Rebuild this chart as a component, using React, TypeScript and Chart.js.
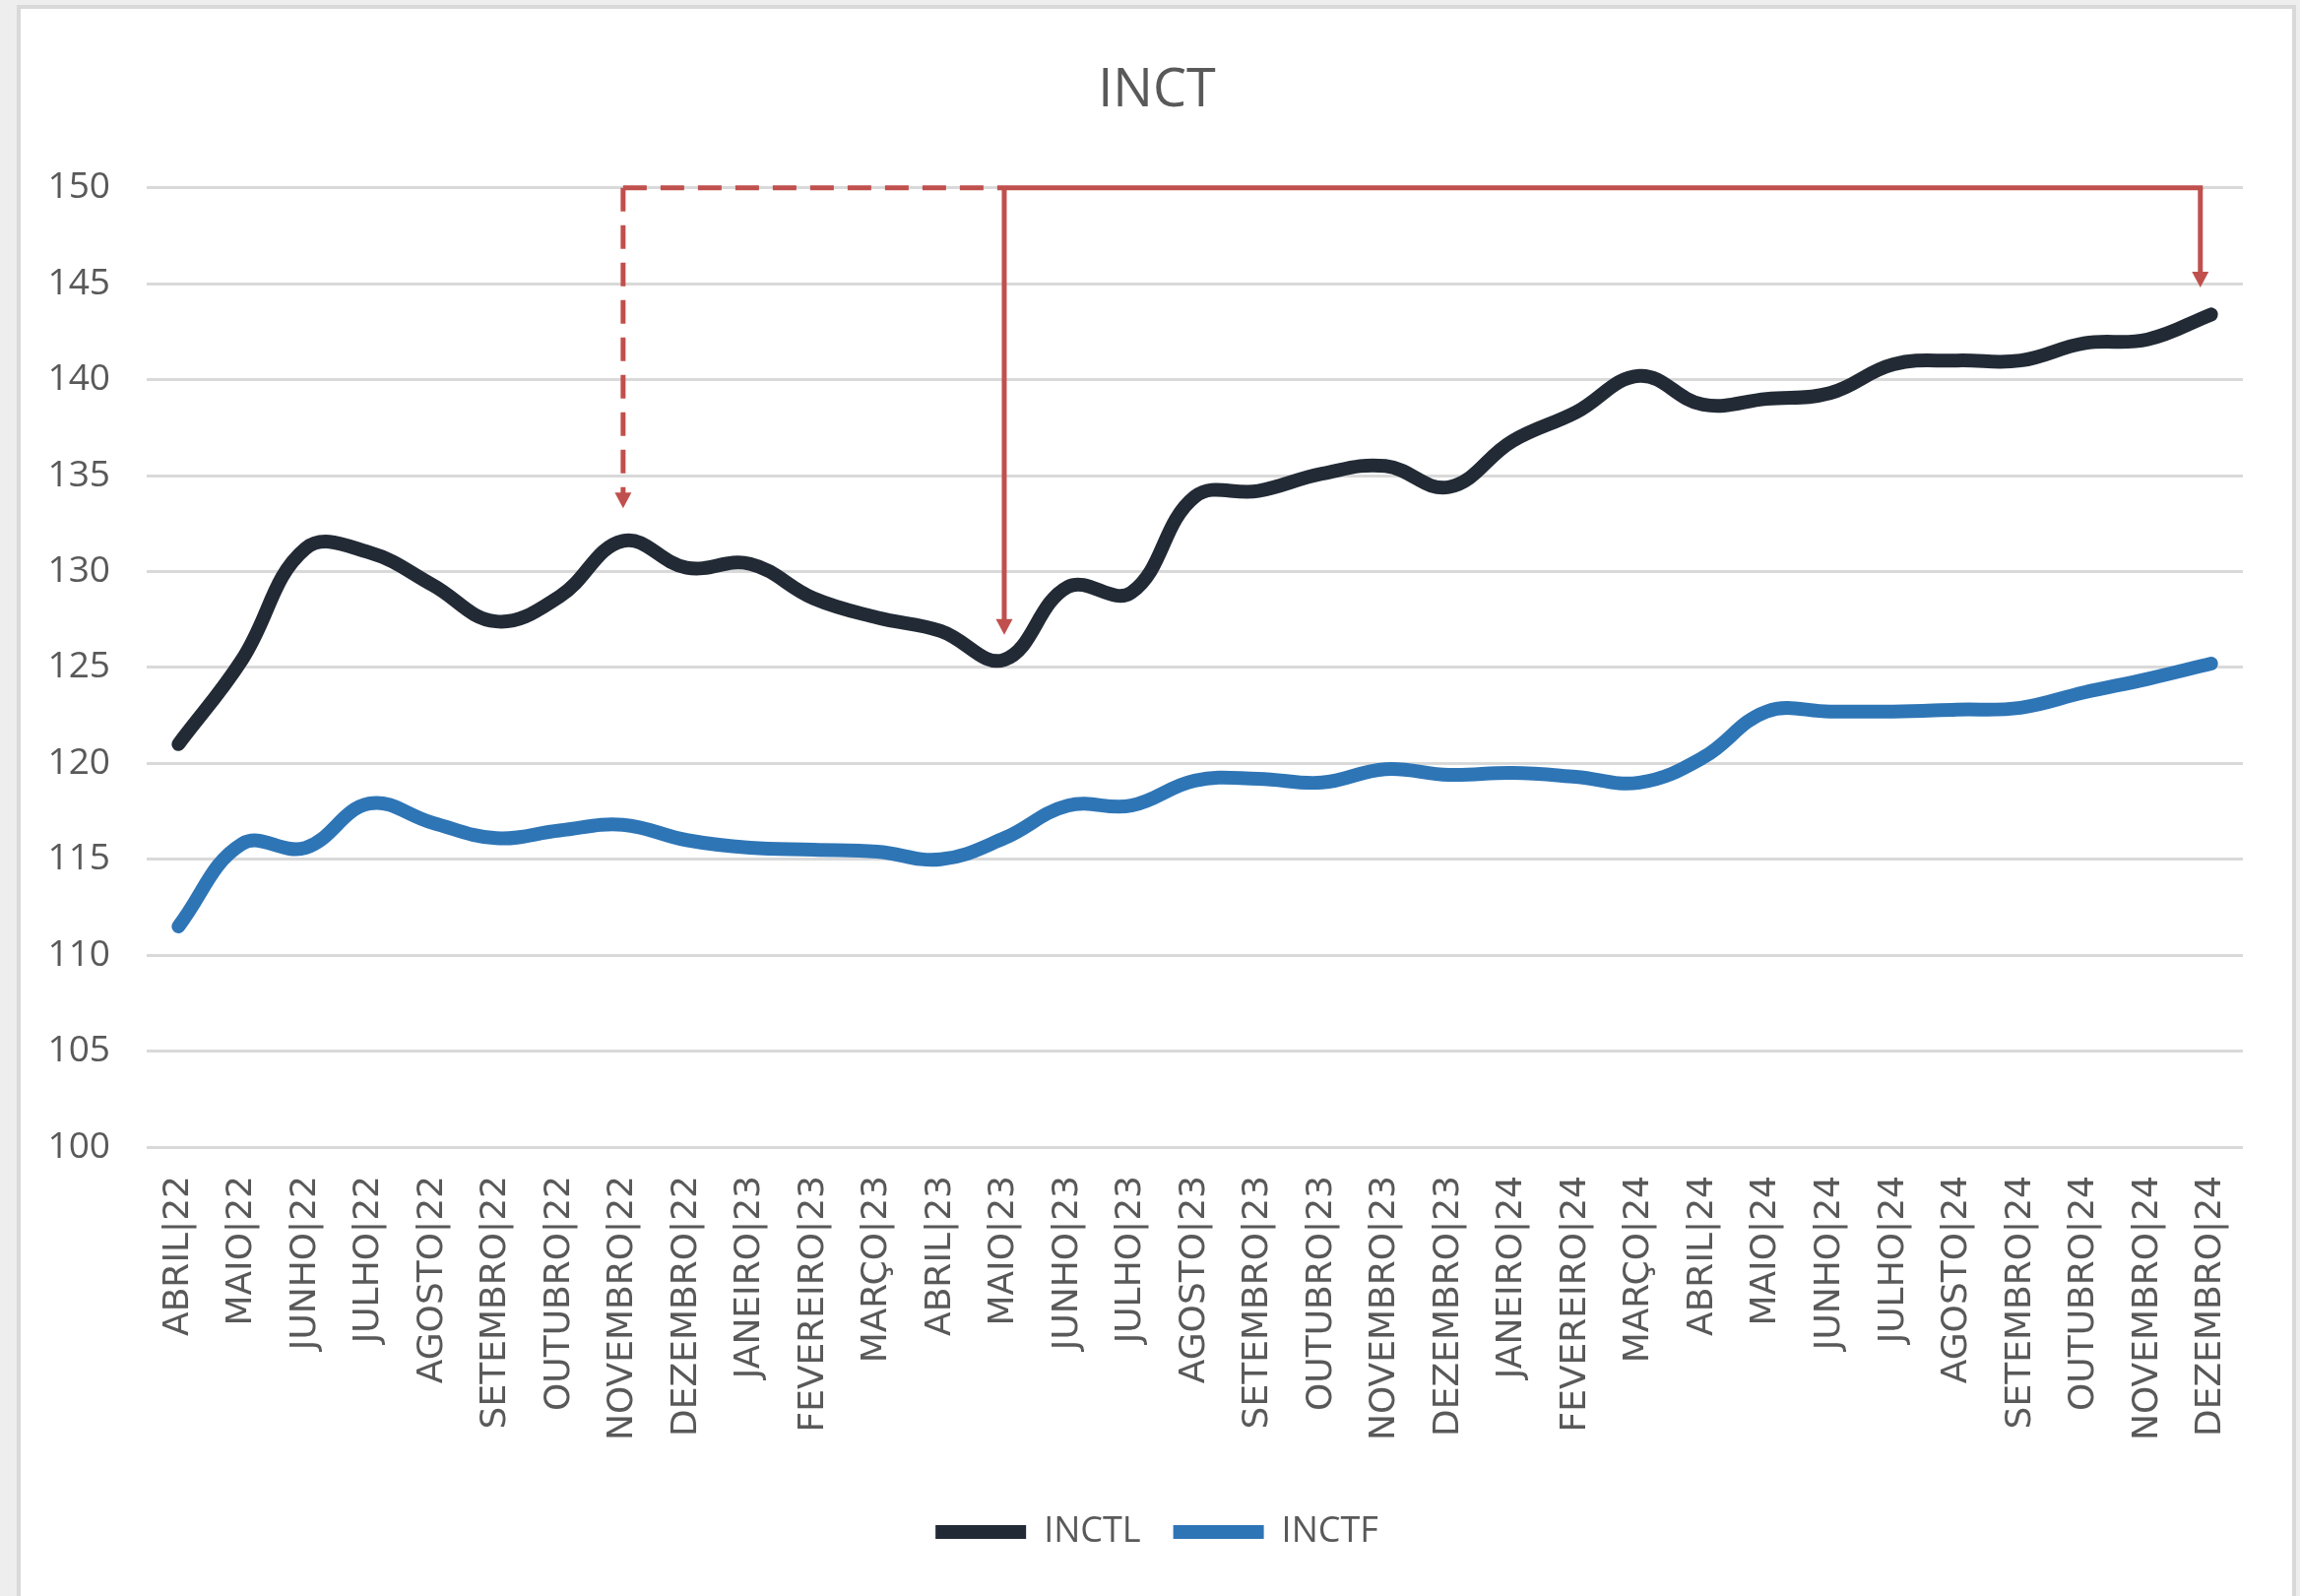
import React, { useEffect, useRef } from "react";
import { Chart, registerables } from "chart.js";

Chart.register(...registerables);

const categories = [
  "ABRIL|22", "MAIO|22", "JUNHO|22", "JULHO|22", "AGOSTO|22", "SETEMBRO|22", "OUTUBRO|22",
  "NOVEMBRO|22", "DEZEMBRO|22", "JANEIRO|23", "FEVEREIRO|23", "MARÇO|23", "ABRIL|23",
  "MAIO|23", "JUNHO|23", "JULHO|23", "AGOSTO|23", "SETEMBRO|23", "OUTUBRO|23",
  "NOVEMBRO|23", "DEZEMBRO|23", "JANEIRO|24", "FEVEREIRO|24", "MARÇO|24", "ABRIL|24",
  "MAIO|24", "JUNHO|24", "JULHO|24", "AGOSTO|24", "SETEMBRO|24", "OUTUBRO|24",
  "NOVEMBRO|24", "DEZEMBRO|24",
];

const inctl = [
  121.0, 125.4, 131.2, 131.0, 129.3, 127.4, 128.7, 131.6, 130.2, 130.4, 128.6, 127.6, 126.9,
  125.4, 129.2, 128.9, 133.9, 134.2, 135.1, 135.5, 134.4, 136.8, 138.3, 140.2, 138.7,
  139.0, 139.3, 140.8, 141.0, 141.0, 141.9, 142.1, 143.4,
];

const inctf = [
  111.5, 115.8, 115.6, 117.9, 116.9, 116.1, 116.5, 116.8, 116.0, 115.6, 115.5, 115.4, 115.0,
  116.1, 117.8, 117.8, 119.1, 119.2, 119.0, 119.7, 119.4, 119.5, 119.3, 119.0, 120.3,
  122.7, 122.7, 122.7, 122.8, 122.9, 123.7, 124.4, 125.2,
];

const seriesNames = ["INCTL", "INCTF"];
const seriesColors = ["#222a35", "#2e75b6"];

const yMin = 100;
const yMax = 150;
const yStep = 5;

// annotation: bracket level and arrow positions (category index) / arrow tip values
const bracketLevel = 150;
const arrowPositions = [7, 13, 31.83];
const arrowTips = [133.3, 126.7, 144.8];
const arrowDashed = [true, false, false];

const RED = "#c0504d";
const TEXT = "#595959";
const SANS = "'Open Sans', sans-serif";

const arrowsPlugin = {
  id: "arrowsPlugin",
  afterDatasetsDraw(chart: any) {
    const { ctx, scales } = chart;
    const x = scales.x;
    const y = scales.y;
    const yTop = y.getPixelForValue(bracketLevel);
    const xs = arrowPositions.map((p) => x.getPixelForValue(p));
    const head = 16;
    const half = 8.5;
    ctx.save();
    ctx.strokeStyle = RED;
    ctx.fillStyle = RED;
    ctx.lineWidth = 5;
    ctx.lineCap = "butt";
    ctx.setLineDash([24, 14]);
    ctx.beginPath();
    ctx.moveTo(xs[0], yTop);
    ctx.lineTo(xs[1], yTop);
    ctx.stroke();
    ctx.setLineDash([]);
    ctx.beginPath();
    ctx.moveTo(xs[1], yTop);
    ctx.lineTo(xs[2] + 2.5, yTop);
    ctx.stroke();
    xs.forEach((xp, i) => {
      const tip = y.getPixelForValue(arrowTips[i]);
      ctx.setLineDash(arrowDashed[i] ? [24, 14] : []);
      ctx.beginPath();
      ctx.moveTo(xp, yTop);
      ctx.lineTo(xp, tip - head + 1);
      ctx.stroke();
      ctx.setLineDash([]);
      ctx.beginPath();
      ctx.moveTo(xp - half, tip - head);
      ctx.lineTo(xp + half, tip - head);
      ctx.lineTo(xp, tip);
      ctx.closePath();
      ctx.fill();
    });
    ctx.restore();
  },
};

export default function App() {
  const canvasRef = useRef<HTMLCanvasElement | null>(null);

  useEffect(() => {
    document.body.style.margin = "0";
    const canvas = canvasRef.current;
    if (!canvas) return;
    const chart = new Chart(canvas, {
      type: "line",
      data: {
        labels: categories,
        datasets: [
          {
            label: seriesNames[0],
            data: inctl,
            borderColor: seriesColors[0],
            backgroundColor: seriesColors[0],
            borderWidth: 14,
            pointRadius: 0,
            tension: 0.4,
            borderCapStyle: "round",
            borderJoinStyle: "round",
          },
          {
            label: seriesNames[1],
            data: inctf,
            borderColor: seriesColors[1],
            backgroundColor: seriesColors[1],
            borderWidth: 14,
            pointRadius: 0,
            tension: 0.4,
            borderCapStyle: "round",
            borderJoinStyle: "round",
          },
        ],
      },
      options: {
        responsive: false,
        maintainAspectRatio: false,
        animation: false,
        layout: { padding: { left: 17, right: 3, top: 0, bottom: 37 } },
        plugins: {
          title: {
            display: true,
            text: "INCT",
            color: TEXT,
            font: { family: SANS, size: 54, weight: "normal" },
            padding: { top: 60, bottom: 66 },
          },
          legend: {
            display: true,
            position: "bottom",
            labels: {
              boxWidth: 92,
              boxHeight: 14,
              useBorderRadius: true,
              borderRadius: 7,
              padding: 33,
              color: TEXT,
              font: { family: SANS, size: 36 },
              generateLabels: (chart: any) =>
                chart.data.datasets.map((ds: any, i: number) => ({
                  text: ds.label,
                  fillStyle: seriesColors[i],
                  strokeStyle: seriesColors[i],
                  lineWidth: 0,
                  fontColor: TEXT,
                  hidden: false,
                  datasetIndex: i,
                })),
            },
          },
          tooltip: { enabled: false },
        },
        scales: {
          x: {
            offset: true,
            grid: { display: false, drawTicks: false },
            border: { display: false },
            ticks: {
              autoSkip: false,
              minRotation: 90,
              maxRotation: 90,
              padding: 29,
              color: TEXT,
              font: { family: "'DejaVu Sans', sans-serif", size: 36 },
            },
            afterFit: (s: any) => {
              s.height = 340;
            },
          },
          y: {
            min: yMin,
            max: yMax,
            grid: { color: "#d9d9d9", lineWidth: 3, drawTicks: false },
            border: { display: false },
            ticks: {
              stepSize: yStep,
              padding: 37,
              color: TEXT,
              font: { family: SANS, size: 37 },
            },
            afterFit: (s: any) => {
              s.width = 132;
            },
          },
          y2: {
            position: "right",
            display: true,
            grid: { display: false, drawTicks: false },
            border: { display: false },
            ticks: { display: false },
            afterFit: (s: any) => {
              s.width = 55;
            },
          },
        },
      },
      plugins: [arrowsPlugin],
    });
    return () => chart.destroy();
  }, []);

  return (
    <div
      style={{
        position: "fixed",
        left: 0,
        top: 0,
        width: 2336,
        height: 1621,
        overflow: "hidden",
        background: "#eeeeee",
      }}
    >
      <div
        style={{
          position: "absolute",
          left: 17,
          top: 5,
          width: 2307,
          height: 1700,
          border: "4px solid #d9d9d9",
          background: "#ffffff",
        }}
      />
      <canvas
        ref={canvasRef}
        width={2336}
        height={1621}
        style={{ position: "absolute", left: 0, top: 0, width: 2336, height: 1621 }}
      />
    </div>
  );
}
